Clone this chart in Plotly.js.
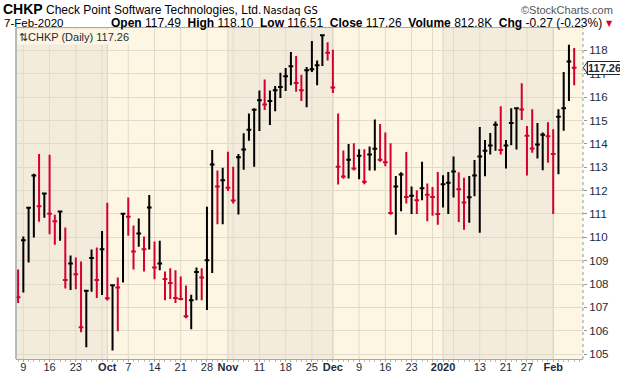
<!DOCTYPE html>
<html><head><meta charset="utf-8">
<script src="https://cdn.plot.ly/plotly-3.0.1.min.js"></script>
<style>html,body{margin:0;padding:0;background:#fff}#chart{width:620px;height:376px}</style>
</head><body><div id="chart"></div>
<script>
// Trading days shown (6-Sep-2019 .. 7-Feb-2020)
const sepDays = [6,9,10,11,12,13,16,17,18,19,20,23,24,25,26,27,30];
const octDays = [1,2,3,4,7,8,9,10,11,14,15,16,17,18,21,22,23,24,25,28,29,30,31];
const novDays = [1,4,5,6,7,8,11,12,13,14,15,18,19,20,21,22,25,26,27,29];
const decDays = [2,3,4,5,6,9,10,11,12,13,16,17,18,19,20,23,24,26,27,30,31];
const janDays = [2,3,6,7,8,9,10,13,14,15,16,17,21,22,23,24,27,28,29,30,31];
const febDays = [3,4,5,6,7];
const monthNames = ['Sep','Oct','Nov','Dec','2020','Feb'];

const high = [108.62,110.03,111.30,112.72,113.57,111.88,113.53,110.96,111.13,110.42,
109.22,109.14,108.96,107.74,109.48,109.56,110.27,111.48,107.97,108.28,
111.04,111.70,110.50,110.80,110.03,111.81,109.82,109.85,108.54,108.67,
108.59,108.32,107.94,107.54,108.71,108.67,111.31,113.74,112.86,112.98,
113.66,113.02,113.57,114.45,115.30,115.52,116.28,116.75,116.28,116.48,
117.04,117.25,117.93,117.76,116.96,117.29,118.40,117.57,118.68,118.35,
118.03,115.30,113.72,113.99,114.03,113.77,113.77,113.89,115.04,114.85,
114.49,114.03,112.62,112.79,113.65,112.17,112.01,113.23,112.30,112.15,
112.80,112.66,112.80,113.46,112.79,112.55,112.62,113.31,114.72,114.17,
114.46,114.96,115.61,114.17,115.52,115.55,116.59,114.76,115.48,114.89,
114.49,114.93,114.63,115.48,117.08,118.24,118.10];
const low = [107.19,107.64,108.92,109.99,110.67,110.84,110.13,109.68,109.85,107.81,
107.74,107.78,105.93,105.29,107.67,107.40,107.53,107.29,105.15,105.98,
108.07,110.07,108.62,109.60,108.54,109.48,108.20,108.59,107.31,107.36,
107.19,107.31,106.53,106.06,107.31,107.31,106.89,108.47,110.56,110.56,
111.98,111.45,110.98,112.89,114.13,113.02,114.55,115.45,114.81,115.40,
115.96,116.26,116.51,116.23,115.83,115.57,117.08,116.51,117.33,117.57,
116.18,112.26,112.51,112.52,112.86,112.48,112.27,112.86,112.86,113.23,
113.04,110.96,110.11,111.11,111.45,111.00,111.00,111.59,110.69,110.92,
110.54,111.28,111.00,111.70,110.65,110.32,110.62,111.76,110.20,112.61,
113.54,113.71,113.54,112.94,113.94,113.76,115.02,112.65,113.62,113.37,
112.87,113.19,111.00,112.70,114.56,115.84,116.51];
const close = [107.43,109.87,111.27,112.65,111.33,111.87,111.01,110.69,111.10,108.17,
108.88,108.42,106.15,107.71,109.11,108.17,109.49,107.39,107.95,107.85,
111.01,110.88,109.39,110.16,109.49,111.28,108.71,108.88,108.21,108.04,
107.40,107.36,106.62,107.31,108.51,108.28,109.02,113.12,112.18,112.44,
112.12,111.58,113.43,113.76,114.60,115.46,115.87,115.69,115.83,116.30,
116.43,116.89,117.32,116.61,116.30,117.15,117.19,117.36,118.65,117.90,
116.41,113.02,112.60,113.32,112.94,113.49,112.38,113.54,113.79,113.32,
113.21,111.04,112.18,112.69,111.73,111.78,111.59,112.10,111.82,111.73,
111.00,112.27,112.33,112.82,112.06,111.49,111.71,112.65,113.46,113.71,
113.93,114.82,113.74,113.93,114.89,115.52,115.47,114.35,113.80,113.97,
114.39,114.33,113.57,115.16,115.52,117.53,117.26];
const firstBarDown = true;

// ---- build dates ----
const monthDefs = [[2019,8,sepDays],[2019,9,octDays],[2019,10,novDays],[2019,11,decDays],[2020,0,janDays],[2020,1,febDays]];
const dates = [], monthOf = [];
monthDefs.forEach((md,k)=>md[2].forEach(d=>{dates.push(new Date(md[0],md[1],d)); monthOf.push(k);}));
const N = dates.length;

const monthStarts = [];
for (let i=0;i<N;i++) if (i===0 || monthOf[i]!==monthOf[i-1]) monthStarts.push(i);
const weekStarts = [];
for (let i=1;i<N;i++) if (dates[i].getDay() <= dates[i-1].getDay()) weekStarts.push(i);
if (dates[0].getDay()===1) weekStarts.unshift(0);

// ticks
const tickvals = [], ticktext = [];
const labelledMonths = monthStarts.filter(i=>i>0);
weekStarts.forEach(i=>{
  if (labelledMonths.some(m=>Math.abs(m-i)<3)) return;
  tickvals.push(i); ticktext.push(String(dates[i].getDate()));
});
labelledMonths.forEach(i=>{ tickvals.push(i); ticktext.push('<b>'+monthNames[monthOf[i]]+'</b>'); });

// split up/down bars (vs previous close)
const up = {x:[],h:[],l:[],c:[]}, dn = {x:[],h:[],l:[],c:[]};
for (let i=0;i<N;i++){
  const isUp = i===0 ? !firstBarDown : close[i] > close[i-1];
  const t = isUp ? up : dn;
  t.x.push(i); t.h.push(high[i]); t.l.push(low[i]); t.c.push(close[i]);
}
function barTrace(t, color){
  return {type:'ohlc', x:t.x, open:t.c, high:t.h, low:t.l, close:t.c,
    increasing:{line:{color:color,width:2}}, decreasing:{line:{color:color,width:2}},
    tickwidth:0.45, hoverinfo:'none', showlegend:false};
}
const RED = '#d4002f';
const data = [barTrace(up,'#000000'), barTrace(dn,RED)];

const XR = [-0.4, 107.68], YR = [104.79, 118.96];
const DARK = '#F3ECDC', LIGHT = '#FDF6E3', GRID = '#E2DBCB';
const shapes = [];
for (let k=0;k<monthStarts.length;k++){
  const x0 = k===0 ? XR[0]-1 : monthStarts[k];
  const x1 = k+1<monthStarts.length ? monthStarts[k+1] : XR[1]+1;
  if (k%2===0) shapes.push({type:'rect', layer:'below', xref:'x', yref:'paper', x0:x0, x1:x1, y0:0, y1:1, fillcolor:DARK, line:{width:0}});
}
weekStarts.forEach(i=>shapes.push({type:'line', layer:'below', xref:'x', yref:'paper', x0:i, x1:i, y0:0, y1:1, line:{color:GRID,width:1}}));
labelledMonths.forEach(i=>shapes.push({type:'line', layer:'below', xref:'x', yref:'paper', x0:i, x1:i, y0:0, y1:1, line:{color:'#DAD3C2',width:1}}));
// borders
shapes.push({type:'line', xref:'paper', yref:'paper', x0:0, x1:0, y0:0, y1:1, line:{color:'#9FAAA9',width:1.5}});
shapes.push({type:'line', xref:'paper', yref:'paper', x0:1, x1:1, y0:0, y1:1, line:{color:'#8E9C9C',width:1,dash:'dot'}});
// price marker notch
const last = close[N-1];
shapes.push({type:'path', xref:'paper', yref:'y', path:`M 1.0075,${last+0.24} L 1.0005,${last} L 1.0075,${last-0.24} Z`, fillcolor:'#ffffff', line:{color:'#1d2b3a',width:1}});

const px = v=>(v-16)/567, py = v=>(359-v)/331;
const F = 'Liberation Sans, Arial, sans-serif';
const ann = [
  {x:px(2), y:py(9.5), xanchor:'left', yanchor:'middle', text:'<b>CHKP</b>', borderpad:0, font:{family:F,size:14,color:'#000'}},
  {x:px(45), y:py(10), xanchor:'left', yanchor:'middle', text:'Check Point Software Technologies, Ltd.', borderpad:0, font:{family:F,size:12,color:'#000'}},
  {x:px(262), y:py(10.5), xanchor:'left', yanchor:'middle', text:'Nasdaq GS', borderpad:0, font:{family:'DejaVu Sans',size:10,color:'#000'}},
  {x:px(614), y:py(10), xanchor:'right', yanchor:'middle', text:'©StockCharts.com', borderpad:0, font:{family:F,size:11,color:'#555'}},
  {x:px(3), y:py(23), xanchor:'left', yanchor:'middle', text:'7-Feb-2020', borderpad:0, font:{family:F,size:11.5,color:'#000'}},
  {x:px(603), y:py(23), xanchor:'right', yanchor:'middle', text:'<b>Open</b> 117.49  <b>High</b> 118.10  <b>Low</b> 116.51  <b>Close</b> 117.26  <b>Volume</b> 812.8K  <b>Chg</b> -0.27 (-0.23%)', borderpad:0, font:{family:F,size:12,color:'#000'}},
  {x:px(609), y:py(23), xanchor:'center', yanchor:'middle', text:'▼', borderpad:0, font:{family:'DejaVu Sans',size:8,color:RED}},
  {x:px(16.5), y:py(28.5), xanchor:'left', yanchor:'top', text:'⇅CHKP (Daily) 117.26', bgcolor:LIGHT, borderpad:1, font:{family:F,size:11,color:'#1d2b3a'}},
  {x:1.0072, y:last, xref:'paper', yref:'y', xanchor:'left', yanchor:'middle', text:'<b>'+last.toFixed(2)+'</b>', bgcolor:'#ffffff', bordercolor:'#1d2b3a', borderwidth:1, borderpad:0, font:{family:F,size:11,color:'#1d2b3a'}}
].map(a=>Object.assign({xref:'paper', yref:'paper', showarrow:false}, a));

const layout = {
  width:620, height:376, margin:{l:16,r:37,t:28,b:17},
  paper_bgcolor:'#ffffff', plot_bgcolor:LIGHT, showlegend:false, dragmode:false,
  xaxis:{type:'linear', range:XR, tickmode:'array', tickvals:tickvals, ticktext:ticktext,
    showgrid:false, zeroline:false, showline:true, mirror:true, linecolor:'#9FAAA9', linewidth:1,
    ticks:'outside', ticklen:2, tickcolor:'#9FAAA9', ticklabelstandoff:-4,
    minor:{ticks:'outside', ticklen:2, dtick:1, tick0:0, tickcolor:'#B5BDBD', showgrid:false},
    tickfont:{family:F,size:11,color:'#1d2b3a'}, rangeslider:{visible:false}, fixedrange:true},
  yaxis:{side:'right', range:YR, tickmode:'linear', tick0:105, dtick:1, showgrid:true, gridcolor:GRID, gridwidth:1,
    zeroline:false, showline:false, ticks:'outside', ticklen:3, tickcolor:'#8E9C9C',
    tickfont:{family:F,size:11.5,color:'#1d2b3a'}, fixedrange:true},
  shapes:shapes, annotations:ann
};
Plotly.newPlot('chart', data, layout, {displayModeBar:false, staticPlot:true});
</script></body></html>
